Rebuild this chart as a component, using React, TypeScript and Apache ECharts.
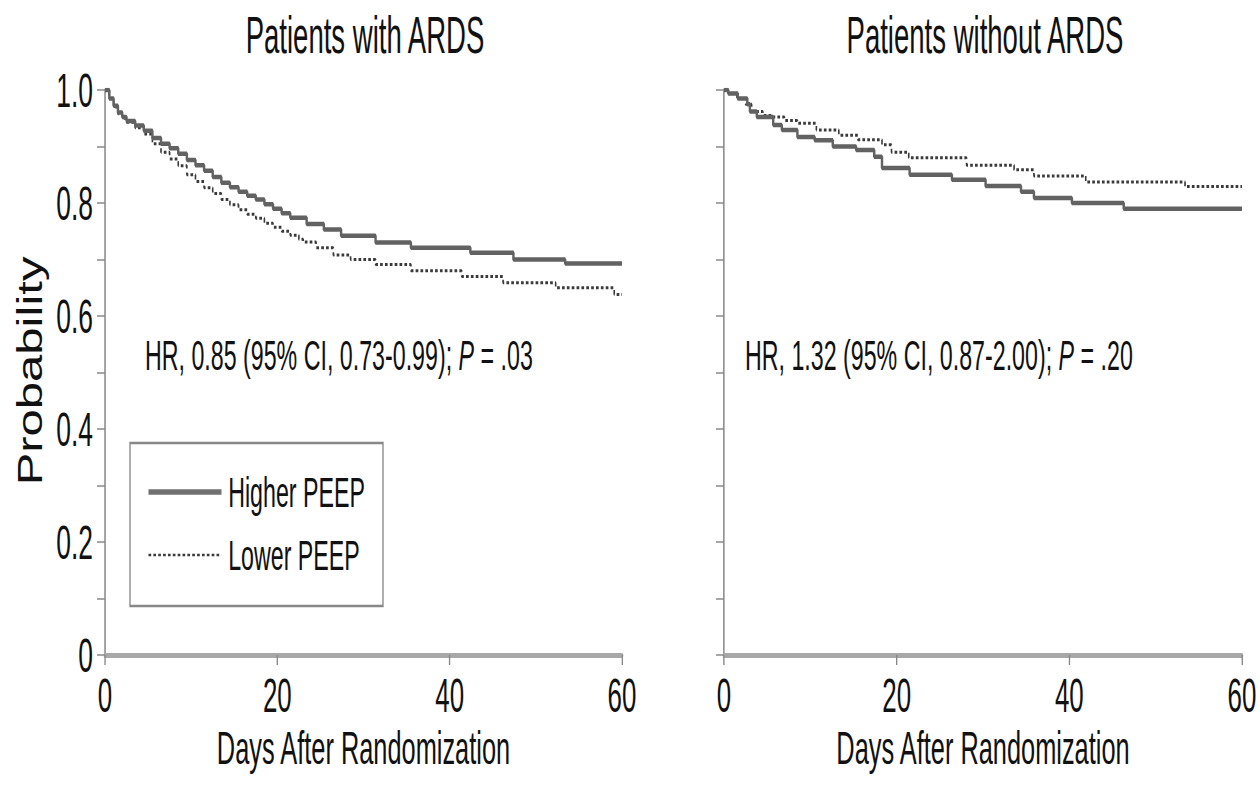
import React, { useEffect, useRef } from "react";
import * as echarts from "echarts";

// The reference figure is horizontally compressed; the chart is drawn on a wider
// canvas and squeezed back to 1260px with a CSS scaleX.
const SQUEEZE = 0.54;
const INNER_W = Math.round(1260 / SQUEEZE);
const ix = (px: number) => px / SQUEEZE;

const FONT = "'Liberation Sans', Arial, Helvetica, sans-serif";
const INK = "#111";

const panelTitles = ["Patients with ARDS", "Patients without ARDS"];
const seriesNames = ["Higher PEEP", "Lower PEEP"];
const xAxisName = "Days After Randomization";
const yAxisName = "Probability";
const hrTexts = [
  "HR, 0.85 (95% CI, 0.73-0.99); {i|P} = .03",
  "HR, 1.32 (95% CI, 0.87-2.00); {i|P} = .20",
];

// Patients with ARDS
const ardsHigherDays = [0, 0.5, 1, 1.5, 2, 2.5, 3.5, 4.5, 5.5, 6.5, 7.5, 8.5, 9.5, 10.5, 11.5, 12.5, 13.5, 14.5, 15.5, 16.5, 17.5, 18.5, 19.5, 20.5, 21.5, 23.4, 25.4, 27.4, 31.4, 35.5, 42.4, 47.4, 53.4, 60];
const ardsHigherSurv = [1.0, 0.985, 0.972, 0.96, 0.952, 0.945, 0.937, 0.928, 0.915, 0.905, 0.897, 0.887, 0.876, 0.867, 0.857, 0.846, 0.836, 0.828, 0.82, 0.813, 0.806, 0.798, 0.79, 0.782, 0.774, 0.763, 0.753, 0.742, 0.73, 0.721, 0.712, 0.7, 0.693, 0.693];
const ardsLowerDays = [0, 0.5, 1, 1.5, 2, 2.5, 3.5, 4.5, 5.5, 6.5, 7.5, 8.5, 9.5, 10.5, 11.5, 12.5, 13.5, 14.5, 15.5, 16.5, 17.5, 18.5, 19.5, 20.5, 21.5, 22.5, 23.0, 24.5, 26.5, 28.5, 31.4, 35.5, 41.4, 46.2, 52.3, 59.1, 60];
const ardsLowerSurv = [1.0, 0.985, 0.97, 0.958, 0.95, 0.943, 0.933, 0.922, 0.905, 0.89, 0.878, 0.866, 0.85, 0.838, 0.827, 0.817, 0.806, 0.797, 0.788, 0.78, 0.773, 0.764, 0.757, 0.75, 0.743, 0.736, 0.731, 0.721, 0.708, 0.7, 0.691, 0.68, 0.67, 0.659, 0.65, 0.638, 0.638];

// Patients without ARDS
const noArdsHigherDays = [0, 0.5, 1.6, 2.7, 3.0, 3.8, 5.7, 6.7, 8.5, 10.5, 12.6, 15.3, 17.4, 18.3, 21.5, 26.4, 30.3, 34.4, 35.9, 40.3, 46.3, 60];
const noArdsHigherSurv = [1.0, 0.994, 0.985, 0.975, 0.962, 0.952, 0.938, 0.929, 0.917, 0.911, 0.9, 0.894, 0.882, 0.862, 0.85, 0.841, 0.83, 0.82, 0.809, 0.8, 0.79, 0.79];
const noArdsLowerDays = [0, 0.5, 1.5, 2.5, 3.2, 4.5, 5.7, 7, 8.5, 10.7, 13.3, 15.5, 18.3, 19.4, 21.4, 28.1, 33.6, 35.9, 41.9, 53.4, 60];
const noArdsLowerSurv = [1.0, 0.994, 0.985, 0.975, 0.962, 0.955, 0.952, 0.946, 0.941, 0.929, 0.92, 0.912, 0.903, 0.89, 0.88, 0.867, 0.859, 0.848, 0.837, 0.829, 0.829];

const zip = (xs: number[], ys: number[]) => xs.map((x, i) => [x, ys[i]]);

const higherStyle = { color: "#626262", width: 4.5, type: "solid" as const };
const lowerStyle = { color: "#3a3a3a", width: 3, type: [5, 4] as any };

function makeXAxis(gridIndex: number) {
  return {
    type: "value",
    gridIndex,
    min: 0,
    max: 60,
    interval: 20,
    name: xAxisName,
    nameLocation: "middle",
    nameGap: 68,
    nameTextStyle: { fontSize: 47, fontFamily: FONT, color: INK },
    axisLine: { show: true, onZero: false, lineStyle: { color: "#a8a8a8", width: 5 } },
    axisTick: { show: true, length: 10, lineStyle: { color: "#888", width: 2.5 } },
    splitLine: { show: false },
    axisLabel: { fontSize: 48, margin: 16, color: INK, fontFamily: FONT },
  };
}

function makeYAxis(gridIndex: number, withLabels: boolean) {
  return {
    type: "value",
    gridIndex,
    min: 0,
    max: 1,
    interval: 0.1,
    axisLine: { show: true, lineStyle: { color: "#888", width: 2.8 } },
    axisTick: { show: true, length: ix(8), lineStyle: { color: "#8a8a8a", width: 1.5 } },
    splitLine: { show: false },
    axisLabel: {
      show: withLabels,
      fontSize: 49,
      margin: ix(12),
      color: INK,
      fontFamily: FONT,
      formatter: (v: number) => {
        const k = Math.round(v * 10);
        if (k % 2 !== 0) return "";
        return k === 0 ? "0" : (k / 10).toFixed(1);
      },
    },
  };
}

function makeSeries(name: string, idx: number, data: number[][], style: any) {
  return {
    type: "line",
    name,
    xAxisIndex: idx,
    yAxisIndex: idx,
    step: "end",
    symbol: "none",
    showSymbol: false,
    data,
    lineStyle: style,
    itemStyle: { color: style.color },
    z: name === seriesNames[0] ? 3 : 2,
  };
}

export default function App() {
  const ref = useRef<HTMLDivElement>(null);
  useEffect(() => {
    document.body.style.margin = "0";
    if (!ref.current) return;
    const chart = echarts.init(ref.current, undefined, { renderer: "svg" });
    const textBase = { fontFamily: FONT, fill: INK };
    const rich = { i: { fontStyle: "italic", fontSize: 43, fontFamily: FONT, fill: INK } };
    chart.setOption({
      animation: false,
      backgroundColor: "#fff",
      grid: [
        { left: ix(105), top: 90, width: ix(517), height: 565 },
        { left: ix(724), top: 90, width: ix(518), height: 565 },
      ],
      xAxis: [makeXAxis(0), makeXAxis(1)],
      yAxis: [makeYAxis(0, true), makeYAxis(1, false)],
      legend: {
        data: [
          { name: seriesNames[0], lineStyle: { width: 5.5, color: "#707070", type: "solid" } },
          { name: seriesNames[1], lineStyle: { width: 2.5, color: "#3a3a3a", type: [5, 4] } },
        ],
        orient: "vertical",
        left: ix(130),
        top: 443,
        padding: [27, ix(18), 29, ix(17)],
        itemGap: 19,
        itemWidth: ix(73),
        itemHeight: 2,
        itemStyle: { opacity: 0 },
        borderColor: "#888",
        borderWidth: 2.5,
        selectedMode: false,
        textStyle: { fontSize: 43, fontFamily: FONT, color: INK, lineHeight: 44, padding: [0, 0, 0, ix(4)] },
      },
      series: [
        makeSeries(seriesNames[0], 0, zip(ardsHigherDays, ardsHigherSurv), higherStyle),
        makeSeries(seriesNames[1], 0, zip(ardsLowerDays, ardsLowerSurv), lowerStyle),
        makeSeries(seriesNames[0], 1, zip(noArdsHigherDays, noArdsHigherSurv), higherStyle),
        makeSeries(seriesNames[1], 1, zip(noArdsLowerDays, noArdsLowerSurv), lowerStyle),
      ],
      graphic: [
        {
          type: "text",
          x: ix(365),
          y: 36,
          style: { ...textBase, text: panelTitles[0], fontSize: 51, align: "center", verticalAlign: "middle", textAlign: "center", textVerticalAlign: "middle" },
        },
        {
          type: "text",
          x: ix(985),
          y: 36,
          style: { ...textBase, text: panelTitles[1], fontSize: 51, align: "center", verticalAlign: "middle", textAlign: "center", textVerticalAlign: "middle" },
        },
        {
          type: "text",
          x: ix(30),
          y: 371,
          rotation: Math.PI / 2,
          scaleY: 1.3,
          style: { ...textBase, text: yAxisName, fontSize: 49, align: "center", verticalAlign: "middle", textAlign: "center", textVerticalAlign: "middle" },
        },
        {
          type: "text",
          x: ix(145),
          y: 355,
          style: { ...textBase, text: hrTexts[0], fontSize: 43, verticalAlign: "middle", textVerticalAlign: "middle", rich },
        },
        {
          type: "text",
          x: ix(745),
          y: 355,
          style: { ...textBase, text: hrTexts[1], fontSize: 43, verticalAlign: "middle", textVerticalAlign: "middle", rich },
        },
      ],
    });
    return () => chart.dispose();
  }, []);
  return (
    <div style={{ width: 1260, height: 802, overflow: "hidden", position: "relative", background: "#fff" }}>
      <div
        ref={ref}
        style={{ width: INNER_W, height: 802, transform: `scaleX(${SQUEEZE})`, transformOrigin: "0 0" }}
      />
    </div>
  );
}
